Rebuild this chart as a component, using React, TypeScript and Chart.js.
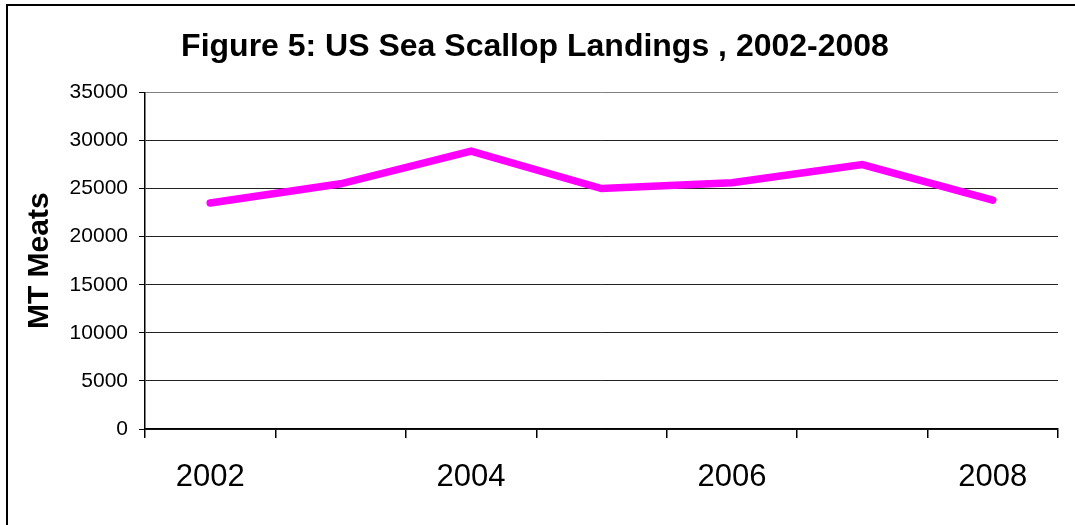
import React, { useEffect, useRef } from "react";
import { Chart, registerables } from "chart.js";

Chart.register(...registerables);

const categories: string[] = ["2002", "2003", "2004", "2005", "2006", "2007", "2008"];
const tickLabels: string[] = ["2002", "", "2004", "", "2006", "", "2008"];
const landings: number[] = [23500, 25500, 28900, 25000, 25600, 27500, 23800];
const chartTitle = "Figure 5: US Sea Scallop Landings , 2002-2008";
const yTitle = "MT Meats";
const yMin = 0;
const yMax = 35000;
const yStep = 5000;

const FONT = "'Liberation Sans', Arial, Helvetica, sans-serif";

export default function App() {
  const ref = useRef<HTMLCanvasElement | null>(null);

  useEffect(() => {
    if (!ref.current) return;
    const chart = new Chart(ref.current, {
      type: "line",
      data: {
        labels: categories,
        datasets: [
          {
            data: landings,
            borderColor: "#FF00FF",
            backgroundColor: "#FF00FF",
            borderWidth: 7.5,
            borderCapStyle: "round",
            borderJoinStyle: "miter",
            pointRadius: 0,
            pointHoverRadius: 0,
            tension: 0,
            fill: false,
          },
        ],
      },
      options: {
        responsive: false,
        animation: false,
        maintainAspectRatio: false,
        layout: { padding: { left: 12, right: 17, top: 0, bottom: 0 } },
        plugins: {
          legend: { display: false },
          tooltip: { enabled: false },
          title: {
            display: true,
            text: chartTitle,
            color: "#000",
            font: { family: FONT, size: 32, weight: "bold" },
            padding: { top: 28, bottom: 26 },
          },
        },
        scales: {
          x: {
            type: "category",
            offset: true,
            grid: {
              offset: true,
              drawOnChartArea: true,
              color: (ctx: any) => (ctx.index === categories.length ? "#808080" : "rgba(0,0,0,0)"),
              tickColor: "#000",
              tickLength: 9,
              lineWidth: 1.5,
            },
            border: { display: true, color: "#000", width: 1.5 },
            ticks: {
              autoSkip: false,
              maxRotation: 0,
              minRotation: 0,
              color: "#000",
              padding: 21,
              font: { family: FONT, size: 31 },
              callback: (_v: any, i: number) => tickLabels[i],
            },
            afterFit: (scale: any) => {
              scale.height = 96;
            },
          },
          y: {
            min: yMin,
            max: yMax,
            ticks: {
              stepSize: yStep,
              color: "#000",
              padding: 11,
              font: { family: FONT, size: 21 },
              callback: (v: any) => String(v),
            },
            grid: {
              color: (ctx: any) => (ctx.tick && ctx.tick.value === yMax ? "#808080" : "#222"),
              tickColor: "#000",
              tickLength: 6,
              lineWidth: 1,
            },
            border: { display: true, color: "#000", width: 1.5 },
            title: {
              display: true,
              text: yTitle,
              color: "#000",
              font: { family: FONT, size: 30, weight: "bold" },
              padding: { top: 10, bottom: 0 },
            },
            afterFit: (scale: any) => {
              scale.width = 133;
            },
          },
        },
      },
    });
    return () => chart.destroy();
  }, []);

  return (
    <div style={{ position: "fixed", left: 0, top: 0, width: 1075, height: 525, overflow: "hidden", background: "#fff" }}>
      <div
        style={{
          position: "absolute",
          left: 6,
          top: 4,
          width: 1200,
          height: 700,
          borderLeft: "2px solid #000",
          borderTop: "2px solid #000",
        }}
      />
      <canvas ref={ref} width={1075} height={525} style={{ position: "absolute", left: 0, top: 0, width: 1075, height: 525 }} />
    </div>
  );
}
